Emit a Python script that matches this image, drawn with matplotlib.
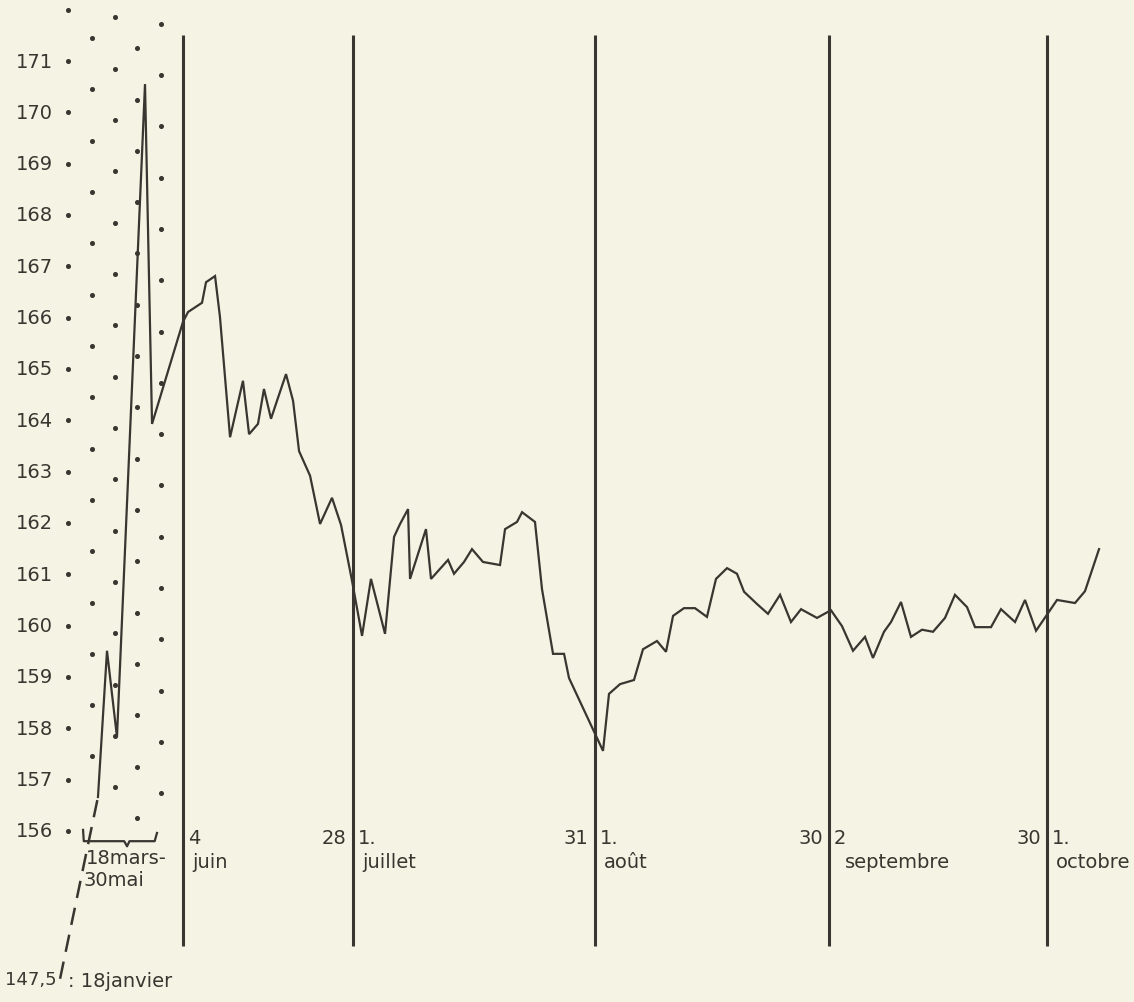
import numpy as np
import matplotlib.pyplot as plt

# values (1974)
# x = position along the drawn time axis, in trading sessions from 4 June;
# the 18 March - 30 May stretch is squeezed into a few units on the left
mars_mai_x = [-8.10, -7.24, -6.29, -3.62, -2.95]
mars_mai_y = [156.66, 159.51, 157.83, 170.55, 163.93]

juin_x = [0.00, 0.48, 1.81, 2.19, 3.05, 3.52, 4.48, 5.71, 6.29, 7.14, 7.71,
          8.38, 8.95, 9.81, 10.48, 11.05, 12.10, 13.05, 14.19, 15.05, 16.10]
juin_y = [165.92, 166.11, 166.29, 166.69, 166.81, 166.01, 163.67, 164.77, 163.73,
          163.93, 164.61, 164.03, 164.38, 164.90, 164.38, 163.40, 162.92, 161.98,
          162.49, 161.96, 160.87]

juillet_x = [17.05, 17.90, 19.24, 20.10, 20.67, 21.43, 21.62, 23.14, 23.62, 25.24,
             25.81, 26.76, 27.52, 28.57, 30.19, 30.67, 31.81, 32.29, 33.52, 34.19,
             35.24, 36.29, 36.76]
juillet_y = [159.80, 160.91, 159.84, 161.73, 161.98, 162.27, 160.91, 161.88, 160.91,
             161.28, 161.01, 161.24, 161.49, 161.24, 161.18, 161.88, 162.02, 162.21,
             162.02, 160.71, 159.45, 159.45, 158.98]

aout_x = [40.00, 40.57, 41.62, 42.95, 43.81, 45.14, 46.00, 46.67, 47.71, 48.76,
          49.90, 50.76, 51.81, 52.76, 53.43, 54.67, 55.71, 56.86, 57.90, 58.86, 60.38]
aout_y = [157.56, 158.67, 158.86, 158.94, 159.54, 159.70, 159.49, 160.19, 160.34,
          160.34, 160.17, 160.91, 161.12, 161.01, 160.66, 160.42, 160.23, 160.60,
          160.07, 160.32, 160.15]

sept_x = [61.71, 62.76, 63.81, 64.95, 65.71, 66.76, 67.43, 68.38, 69.33, 70.38,
          71.43, 72.57, 73.52, 74.67, 75.43, 76.95, 77.90, 79.24, 80.19, 81.24]
sept_y = [160.30, 159.99, 159.51, 159.78, 159.37, 159.88, 160.07, 160.46, 159.78,
          159.92, 159.88, 160.15, 160.60, 160.36, 159.97, 159.97, 160.32, 160.07,
          160.50, 159.90]

oct_x = [83.24, 84.95, 85.90, 87.24]
oct_y = [160.50, 160.44, 160.67, 161.49]

# 18 janvier: 147,5 - drawn off the scale (broken axis) at the bottom
janvier_x = -11.71
janvier_value = 147.5
janvier_drawn_y = 153.12

# month separators and their labels
month_lines = [0.0, 16.19, 39.24, 61.52, 82.29]
day_before = ["", "28", "31", "30", "30"]
first_day = ["4", "1.", "1.", "2", "1."]
month_names = ["juin", "juillet", "août", "septembre", "octobre"]

y_ticks = list(range(156, 172))

ink = "#3a3530"
paper = "#f5f3e4"

fig = plt.figure(figsize=(11.34, 10.03), dpi=100, facecolor=paper)
ax = fig.add_axes([0, 0, 1, 1])
ax.set_facecolor(paper)
ax.set_xlim(-17.43, 90.57)
ax.set_ylim(152.667, 172.208)
ax.axis("off")

# dotted guide columns on the left (hand dotted, slightly staggered)
dot_cols = [(-10.95, 0.0, 156, 172), (-8.67, 0.45, 157, 171), (-6.48, -0.15, 157, 172),
            (-4.38, 0.25, 156, 171), (-2.10, -0.27, 157, 172)]
for cx, off, lo, hi in dot_cols:
    vals = np.arange(lo, hi + 1) + off
    ax.plot(np.full(len(vals), cx), vals, ls="none", marker="o", ms=2.6, color=ink)

# month separators
for mx in month_lines:
    ax.plot([mx, mx], [153.75, 171.5], color=ink, lw=2.2, solid_capstyle="butt")

# dashed link from the January value
ax.plot([janvier_x, mars_mai_x[0]], [janvier_drawn_y, mars_mai_y[0]],
        color=ink, lw=1.8, dashes=(7, 4))

# the series
xs = mars_mai_x + juin_x + juillet_x + aout_x + sept_x + oct_x
ys = mars_mai_y + juin_y + juillet_y + aout_y + sept_y + oct_y
ax.plot(xs, ys, color=ink, lw=1.6, solid_joinstyle="miter")

# y labels
for v in y_ticks:
    ax.text(-12.4, v, str(v), ha="right", va="center", fontsize=14, color=ink)

# brace under the March-May stretch
ax.plot([-9.52, -9.45, -5.6, -5.33, -5.1, -2.7, -2.48],
        [156.02, 155.80, 155.80, 155.70, 155.80, 155.80, 155.96], color=ink, lw=1.6)
ax.text(-9.25, 155.49, "18mars-", ha="left", va="center", fontsize=14, color=ink)
ax.text(-9.45, 155.06, "30mai", ha="left", va="center", fontsize=14, color=ink)

ax.text(-12.05, janvier_drawn_y, f"{janvier_value:g}".replace(".", ","),
        ha="right", va="center", fontsize=13, color=ink)
ax.text(-10.95, janvier_drawn_y - 0.03, ": 18janvier", ha="left", va="center",
        fontsize=14, color=ink)

# month labels
for mx, before, first, name in zip(month_lines, day_before, first_day, month_names):
    if before:
        ax.text(mx - 0.6, 155.88, before, ha="right", va="center", fontsize=14, color=ink)
    ax.text(mx + 0.45, 155.88, first, ha="left", va="center", fontsize=14, color=ink)
    dx = 1.5 if name == "septembre" else 0.85
    ax.text(mx + dx, 155.40, name, ha="left", va="center", fontsize=14, color=ink)

fig.savefig("out.png", dpi=100, facecolor=paper)
